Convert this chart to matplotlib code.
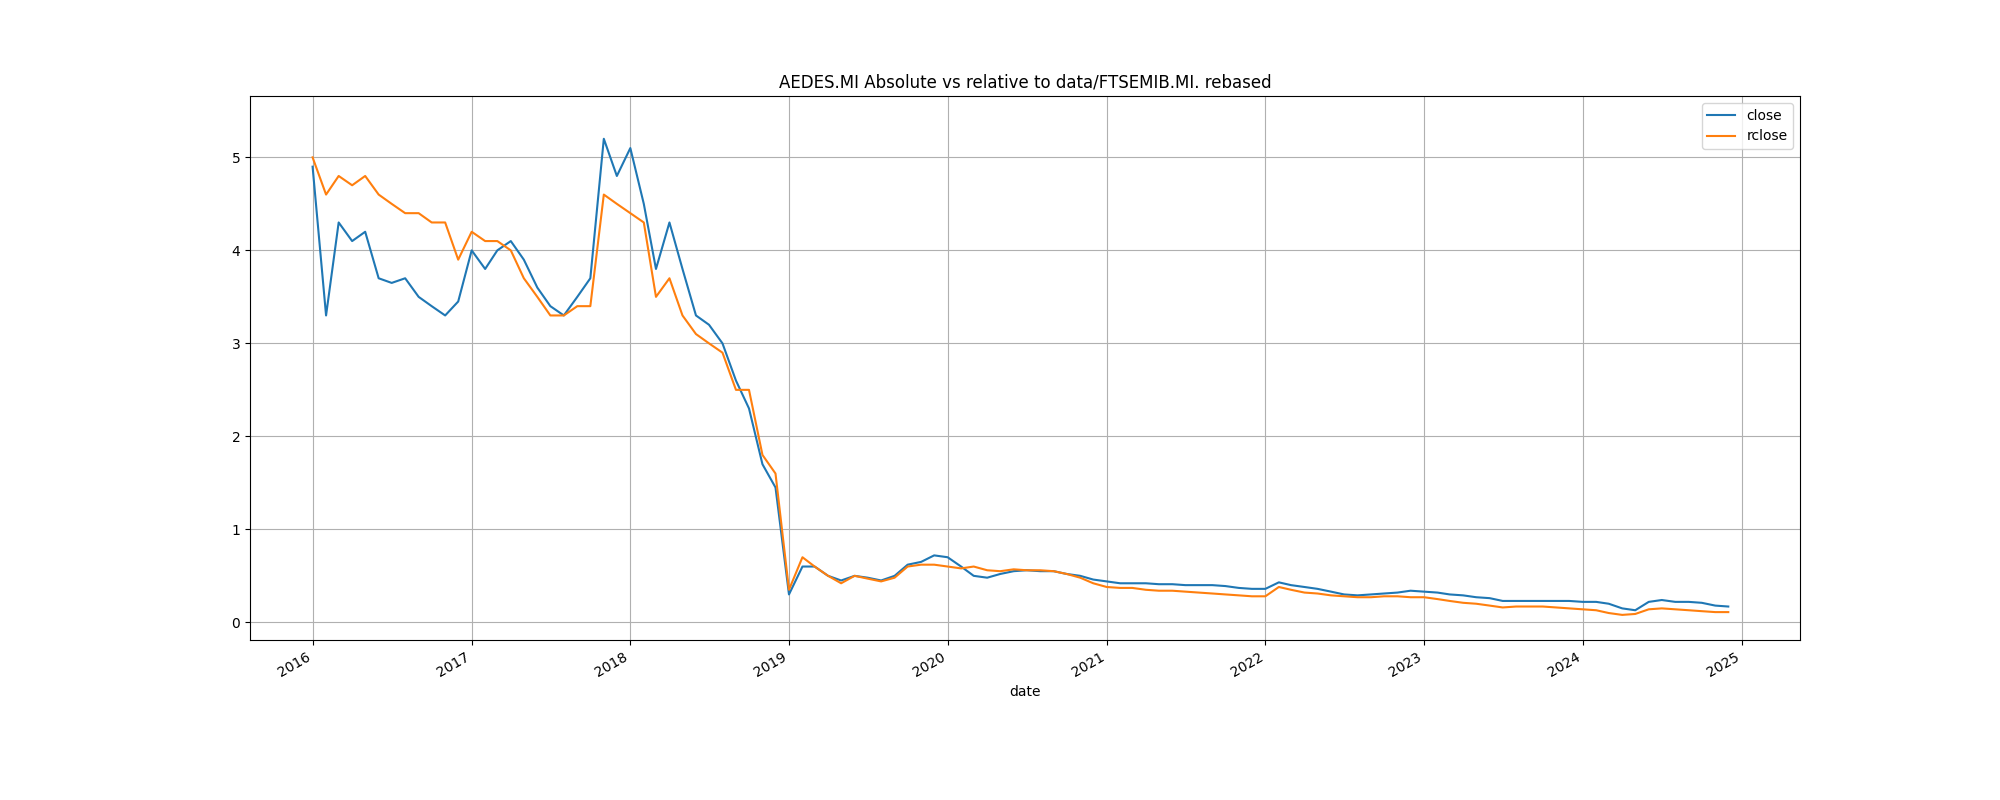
import numpy as np
import pandas as pd
import matplotlib
matplotlib.use("Agg")
import matplotlib.pyplot as plt

# monthly values (approximate)
dates = pd.date_range("2016-01-01", periods=108, freq="MS")

close = [
    4.9, 3.3, 4.3, 4.1, 4.2, 3.7, 3.65, 3.7, 3.5, 3.4, 3.3, 3.45,
    4.0, 3.8, 4.0, 4.1, 3.9, 3.6, 3.4, 3.3, 3.5, 3.7, 5.2, 4.8,
    5.1, 4.5, 3.8, 4.3, 3.8, 3.3, 3.2, 3.0, 2.6, 2.3, 1.7, 1.45,
    0.3, 0.6, 0.6, 0.5, 0.45, 0.5, 0.48, 0.45, 0.5, 0.62, 0.65, 0.72,
    0.7, 0.6, 0.5, 0.48, 0.52, 0.55, 0.56, 0.55, 0.55, 0.52, 0.5, 0.46,
    0.44, 0.42, 0.42, 0.42, 0.41, 0.41, 0.40, 0.40, 0.40, 0.39, 0.37, 0.36,
    0.36, 0.43, 0.40, 0.38, 0.36, 0.33, 0.30, 0.29, 0.30, 0.31, 0.32, 0.34,
    0.33, 0.32, 0.30, 0.29, 0.27, 0.26, 0.23, 0.23, 0.23, 0.23, 0.23, 0.23,
    0.22, 0.22, 0.20, 0.15, 0.13, 0.22, 0.24, 0.22, 0.22, 0.21, 0.18, 0.17,
]
rclose = [
    5.0, 4.6, 4.8, 4.7, 4.8, 4.6, 4.5, 4.4, 4.4, 4.3, 4.3, 3.9,
    4.2, 4.1, 4.1, 4.0, 3.7, 3.5, 3.3, 3.3, 3.4, 3.4, 4.6, 4.5,
    4.4, 4.3, 3.5, 3.7, 3.3, 3.1, 3.0, 2.9, 2.5, 2.5, 1.8, 1.6,
    0.35, 0.7, 0.6, 0.5, 0.42, 0.5, 0.47, 0.44, 0.48, 0.6, 0.62, 0.62,
    0.6, 0.58, 0.6, 0.56, 0.55, 0.57, 0.56, 0.56, 0.55, 0.52, 0.48, 0.42,
    0.38, 0.37, 0.37, 0.35, 0.34, 0.34, 0.33, 0.32, 0.31, 0.30, 0.29, 0.28,
    0.28, 0.38, 0.35, 0.32, 0.31, 0.29, 0.28, 0.27, 0.27, 0.28, 0.28, 0.27,
    0.27, 0.25, 0.23, 0.21, 0.20, 0.18, 0.16, 0.17, 0.17, 0.17, 0.16, 0.15,
    0.14, 0.13, 0.10, 0.08, 0.09, 0.14, 0.15, 0.14, 0.13, 0.12, 0.11, 0.11,
]

df = pd.DataFrame({"close": close, "rclose": rclose}, index=pd.Index(dates, name="date"))

fig, ax = plt.subplots(figsize=(20, 8), dpi=100)
df.plot(ax=ax, x_compat=True)
ax.set_title("AEDES.MI Absolute vs relative to data/FTSEMIB.MI. rebased")
ax.grid(True)
ax.set_xlim(pd.Timestamp("2015-08-10"), pd.Timestamp("2025-05-15"))
ax.set_ylim(-0.19, 5.66)
ax.xaxis.set_major_locator(matplotlib.dates.YearLocator())
ax.xaxis.set_major_formatter(matplotlib.dates.DateFormatter("%Y"))
fig.autofmt_xdate()
ax.legend(loc="upper right")
fig.savefig("out.png")
